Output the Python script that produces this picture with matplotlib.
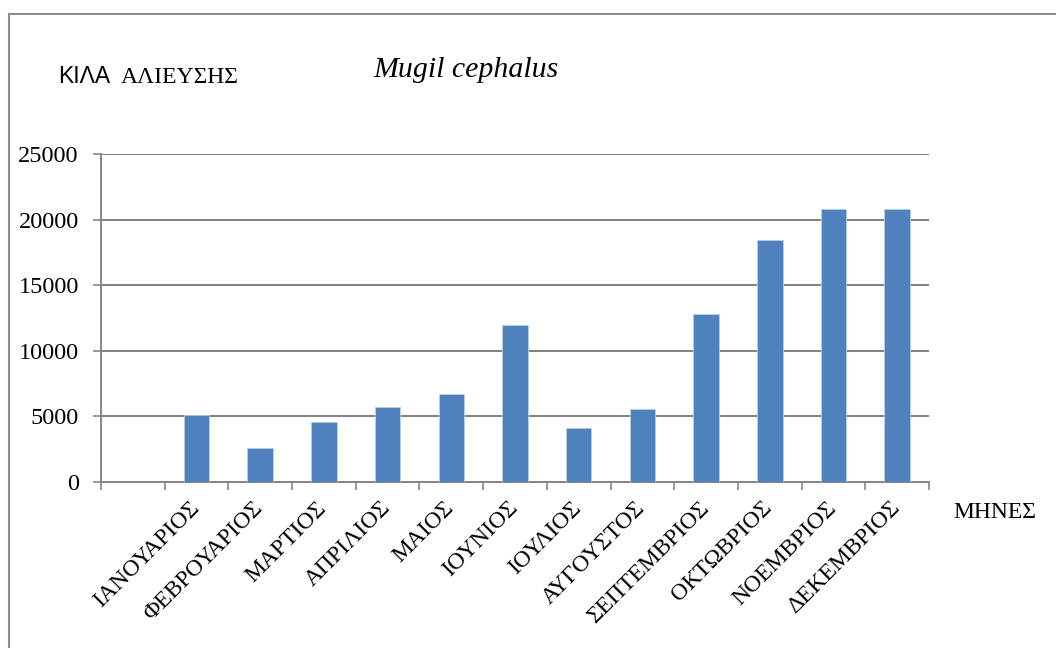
import matplotlib
matplotlib.use('Agg')
import matplotlib.pyplot as plt
import matplotlib.transforms as mtransforms
import numpy as np
from matplotlib.patches import Rectangle

months = ['ΙΑΝΟΥΑΡΙΟΣ', 'ΦΕΒΡΟΥΑΡΙΟΣ', 'ΜΑΡΤΙΟΣ', 'ΑΠΡΙΛΙΟΣ', 'ΜΑΙΟΣ', 'ΙΟΥΝΙΟΣ',
          'ΙΟΥΛΙΟΣ', 'ΑΥΓΟΥΣΤΟΣ', 'ΣΕΠΤΕΜΒΡΙΟΣ', 'ΟΚΤΩΒΡΙΟΣ', 'ΝΟΕΜΒΡΙΟΣ', 'ΔΕΚΕΜΒΡΙΟΣ']
kilos = [5100, 2600, 4570, 5700, 6710, 12000, 4140, 5570, 12780, 18450, 20780, 20800]
yticks = [0, 5000, 10000, 15000, 20000, 25000]

serif = ['Liberation Serif', 'DejaVu Serif']
sans = ['Liberation Sans', 'DejaVu Sans']
grey = '#868686'

fig = plt.figure(figsize=(10.56, 6.48), dpi=100)
ax = fig.add_axes([101 / 1056, 1 - 482 / 648, (929 - 101) / 1056, (482 - 154) / 648])

# first category slot is left empty, as in the original sheet
x = np.arange(1, len(months) + 1)
ax.bar(x, kilos, width=0.4, color='#4F81BD', edgecolor='#B9CDE5', linewidth=0.6, zorder=3)

ax.set_xlim(-0.5, len(months) + 0.5)
ax.set_ylim(0, 25000)
ax.set_yticks(yticks)
ax.set_yticklabels([str(v) for v in yticks], fontfamily=serif, fontsize=17.5)
ax.yaxis.grid(True, color='#808080', linewidth=1.4, zorder=0)

# category labels: drawn as text so they can sit exactly where the original has them
ax.set_xticks(x)
ax.set_xticklabels([])
ax.tick_params(axis='x', which='major', length=0)
shift = mtransforms.ScaledTranslation(-8 / 100, -15.5 / 100, fig.dpi_scale_trans)
for xi, name in zip(x, months):
    ax.text(xi, 0, name, transform=ax.get_xaxis_transform() + shift,
            rotation=45, ha='right', va='top', rotation_mode='anchor',
            fontfamily=serif, fontsize=17)
ax.set_xticks(np.arange(-0.5, len(months) + 1), minor=True)
ax.tick_params(axis='x', which='minor', length=6, color=grey, width=1.2)
ax.tick_params(axis='y', length=6, color=grey, width=1.2, pad=10)

for s in ['top', 'right']:
    ax.spines[s].set_visible(False)
for s in ['left', 'bottom']:
    ax.spines[s].set_color(grey)
    ax.spines[s].set_linewidth(1.4)

# titles and axis captions (baselines)
fig.text(58 / 1056, 1 - 83 / 648, 'ΚΙΛΑ', fontfamily=sans, fontsize=16.5, va='baseline', ha='left')
fig.text(121 / 1056, 1 - 83 / 648, 'ΑΛΙΕΥΣΗΣ', fontfamily=serif, fontsize=17, va='baseline', ha='left')
fig.text(373 / 1056, 1 - 77 / 648, 'Mugil cephalus', fontfamily=serif, style='italic',
         fontsize=21.5, va='baseline', ha='left')
fig.text(953 / 1056, 1 - 518 / 648, 'ΜΗΝΕΣ', fontfamily=serif, fontsize=17, va='baseline', ha='left')

# chart frame (cropped on the right and bottom)
fig.patches.append(Rectangle((9 / 1056, -0.1), 1.2, 1 - 14 / 648 + 0.1, transform=fig.transFigure,
                             fill=False, edgecolor='#8C8C8C', linewidth=1.5))

fig.savefig('out.png', dpi=100)
